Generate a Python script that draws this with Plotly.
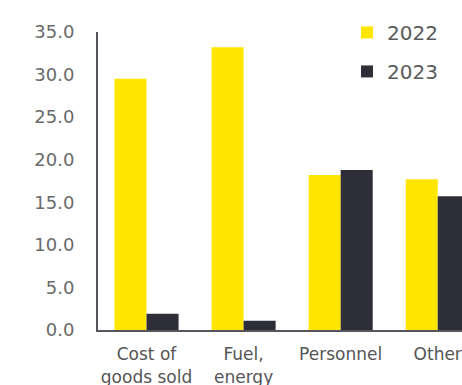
import plotly.graph_objects as go

categories = ["Cost of<br>goods sold", "Fuel,<br>energy", "Personnel", "Other"]
values_2022 = [29.5, 33.2, 18.2, 17.7]
values_2023 = [1.9, 1.1, 18.8, 15.7]
y_ticks = [0, 5, 10, 15, 20, 25, 30, 35]

YELLOW = "#FFE600"
DARK = "#2E2E38"
AXIS = "#55555F"
FONT = "DejaVu Sans, Verdana, sans-serif"

fig = go.Figure()
fig.add_trace(go.Bar(name="2022", x=categories, y=values_2022, legendgroup="a",
                     marker=dict(color=YELLOW, line=dict(width=0))))
fig.add_trace(go.Bar(name="2023", x=categories, y=values_2023, legendgroup="b",
                     marker=dict(color=DARK, line=dict(width=0))))

fig.update_layout(
    width=462, height=385,
    margin=dict(l=98, r=0, t=32, b=55, autoexpand=False),
    paper_bgcolor="white", plot_bgcolor="white",
    barmode="group", bargap=0.34, bargroupgap=0,
    font=dict(family=FONT, color="#5F5F5F"),
    showlegend=True,
    legend=dict(x=0.684, y=1.064, xanchor="left", yanchor="top",
                font=dict(size=20, color="#5A5A5A"),
                bgcolor="rgba(0,0,0,0)", tracegroupgap=10,
                traceorder="grouped"),
    xaxis=dict(range=[-0.5, 3.25], showgrid=False, zeroline=False,
               showline=True, linecolor=AXIS, linewidth=2,
               ticks="", ticklabelstandoff=8, automargin=False,
               tickfont=dict(size=17, color="#555555")),
    yaxis=dict(range=[0, 35], tickvals=y_ticks, tickformat=".1f",
               showgrid=False, zeroline=False,
               showline=True, linecolor=AXIS, linewidth=2,
               ticks="", ticklabelstandoff=18, automargin=False,
               tickfont=dict(size=18, color="#6A6A6A")),
)

fig.write_html("out.html")
